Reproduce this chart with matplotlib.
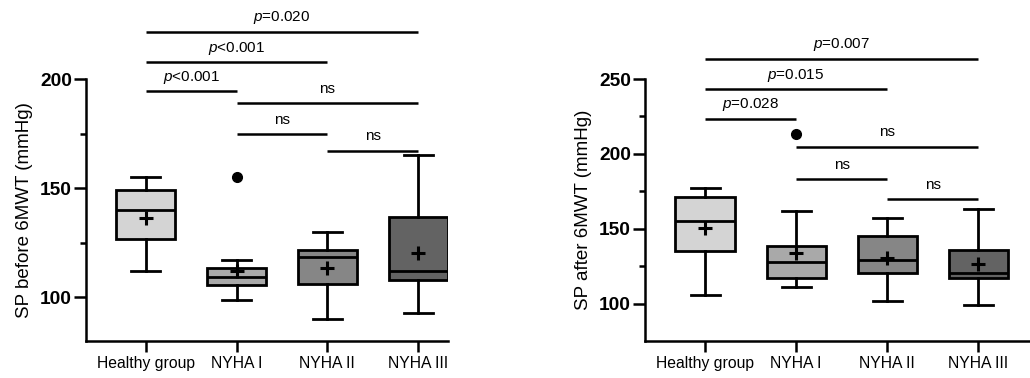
import matplotlib
matplotlib.use('Agg')
import matplotlib.pyplot as plt

plt.rcParams['font.family'] = 'Liberation Sans'
plt.rcParams['mathtext.fontset'] = 'custom'
plt.rcParams['mathtext.it'] = 'Liberation Sans:italic'
plt.rcParams['mathtext.rm'] = 'Liberation Sans'

groups = ['Healthy group', 'NYHA I', 'NYHA II', 'NYHA III']
box_colors = ['#d4d4d4', '#a9a9a9', '#868686', '#636363']

# SP before 6MWT
before_whislo = [112, 99, 90, 93]
before_q1 = [126.7, 105.5, 106, 108]
before_med = [140, 109.2, 118.3, 112.2]
before_q3 = [149.2, 113.4, 121.6, 137]
before_whishi = [155, 117, 130, 165]
before_mean = [136.4, 112, 113.4, 120.5]
before_fliers = [[], [155], [], []]
before_pairs = [(0, 3), (0, 2), (0, 1), (1, 3), (1, 2), (2, 3)]
before_bar_y = [221.6, 207.6, 194.3, 188.8, 174.8, 167.1]
before_labels = ['$p$=0.020', '$p$<0.001', '$p$<0.001', 'ns', 'ns', 'ns']

# SP after 6MWT
after_whislo = [106, 111, 102, 99]
after_q1 = [135, 117, 120.3, 117]
after_med = [155.2, 128, 129.4, 120.3]
after_q3 = [171.4, 138.3, 145, 135.6]
after_whishi = [177, 162, 157, 163.2]
after_mean = [150.7, 133.6, 130.3, 126.3]
after_fliers = [[], [213.3], [], []]
after_pairs = [(0, 3), (0, 2), (0, 1), (1, 3), (1, 2), (2, 3)]
after_bar_y = [263.6, 243.3, 223.5, 204.8, 183.2, 169.7]
after_labels = ['$p$=0.007', '$p$=0.015', '$p$=0.028', 'ns', 'ns', 'ns']

LW = 2.0


def draw_panel(ax, whislo, q1, med, q3, whishi, mean, fliers,
               pairs, bar_y, labels, ylabel, ylim, major, minor, xmax):
    stats = []
    for i in range(len(groups)):
        stats.append(dict(whislo=whislo[i], q1=q1[i], med=med[i], q3=q3[i],
                          whishi=whishi[i], mean=mean[i], fliers=fliers[i]))
    bp = ax.bxp(stats, positions=range(len(groups)), widths=0.65,
                capwidths=0.32, patch_artist=True, showmeans=True,
                boxprops=dict(linewidth=LW, edgecolor='black'),
                medianprops=dict(color='black', linewidth=LW),
                whiskerprops=dict(color='black', linewidth=LW),
                capprops=dict(color='black', linewidth=LW),
                meanprops=dict(marker='+', markersize=10, markeredgewidth=2.2,
                               markeredgecolor='black'),
                flierprops=dict(marker='o', markersize=7,
                                markerfacecolor='black',
                                markeredgecolor='black'))
    for patch, c in zip(bp['boxes'], box_colors):
        patch.set_facecolor(c)

    # significance bars
    for (a, b), y, lab in zip(pairs, bar_y, labels):
        ax.plot([a, b], [y, y], color='black', linewidth=1.8,
                clip_on=False, solid_capstyle='butt')
        ax.annotate(lab, xy=((a + b) / 2, y), xytext=(0, 7.5),
                    textcoords='offset points', ha='center', va='baseline',
                    fontsize=11, annotation_clip=False)

    ax.set_xlim(-0.66, xmax)
    ax.set_ylim(*ylim)
    ax.set_xticks(range(len(groups)))
    ax.set_xticklabels(groups, fontsize=11.3)
    ax.set_yticks(major)
    ax.set_yticks(minor, minor=True)
    for t in ax.get_yticklabels():
        t.set_fontweight('bold')
        t.set_fontsize(13.8)
    ax.set_ylabel(ylabel, fontsize=13.5, labelpad=5)

    for s in ['top', 'right']:
        ax.spines[s].set_visible(False)
    for s in ['left', 'bottom']:
        ax.spines[s].set_linewidth(1.8)
    ax.tick_params(axis='y', which='major', length=8.6, width=1.8, pad=1.5)
    ax.tick_params(axis='y', which='minor', length=4.3, width=1.8)
    ax.tick_params(axis='x', length=8, width=1.8, pad=3)


fig = plt.figure(figsize=(10.3, 3.78), dpi=100)
ax1 = fig.add_axes([86 / 1030, 37 / 378, 362 / 1030, 262 / 378])
ax2 = fig.add_axes([645 / 1030, 37 / 378, 385 / 1030, 262 / 378])

draw_panel(ax1, before_whislo, before_q1, before_med, before_q3,
           before_whishi, before_mean, before_fliers,
           before_pairs, before_bar_y, before_labels,
           'SP before 6MWT (mmHg)', (80, 200), [100, 150, 200], [125, 175], 3.33)
draw_panel(ax2, after_whislo, after_q1, after_med, after_q3,
           after_whishi, after_mean, after_fliers,
           after_pairs, after_bar_y, after_labels,
           'SP after 6MWT (mmHg)', (75, 250), [100, 150, 200, 250],
           [125, 175, 225], 3.57)

fig.savefig('out.png', dpi=100)
